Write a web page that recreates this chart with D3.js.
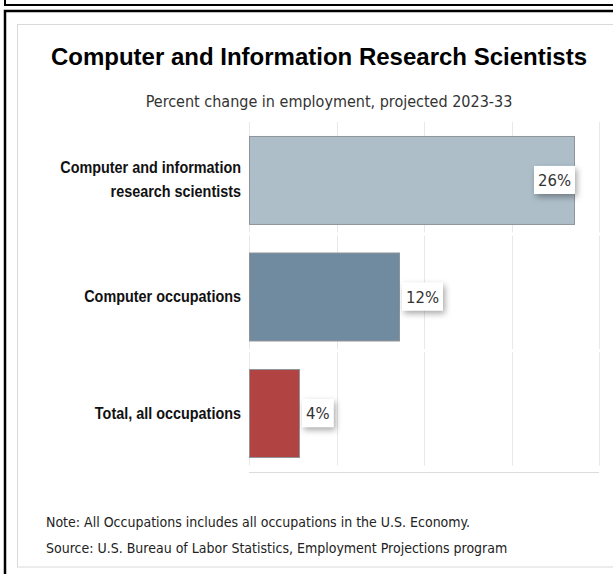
<!DOCTYPE html>
<html>
<head>
<meta charset="utf-8">
<script src="https://cdn.jsdelivr.net/npm/d3@7"></script>
<style>
  html, body { margin: 0; padding: 0; background: #fff; }
  svg { display: block; }
</style>
</head>
<body>
<svg id="chart" width="613" height="574"></svg>
<script>
// Projected percent change in employment, 2023-33
const categories = [
  "Computer and information research scientists",
  "Computer occupations",
  "Total, all occupations"
];
const categoryLines = [
  ["Computer and information", "research scientists"],
  ["Computer occupations"],
  ["Total, all occupations"]
];
const values = [26, 12, 4];
const barColors = ["#adbec9", "#708ba0", "#b24343"];
const gridTicks = [0, 7, 14, 21, 28];
const titleText = "Computer and Information Research Scientists";
const subtitleText = "Percent change in employment, projected 2023-33";
const noteLines = [
  "Note: All Occupations includes all occupations in the U.S. Economy.",
  "Source: U.S. Bureau of Labor Statistics, Employment Projections program"
];

const svg = d3.select("#chart");
const W = 613, H = 574;
const plot = { left: 249, right: 599, top: 122, bottom: 471 };
const bodyFont = "'DejaVu Sans Condensed', 'DejaVu Sans', sans-serif";
const labelRight = 241;

// Page frames
svg.append("path")
  .attr("d", `M5,0 V5 H${W}`)
  .attr("fill", "none").attr("stroke", "#000").attr("stroke-width", 2);
svg.append("path")
  .attr("d", `M5,${H} V11 H${W}`)
  .attr("fill", "none").attr("stroke", "#000").attr("stroke-width", 2.5);
svg.append("rect")
  .attr("x", 17.5).attr("y", 24.5).attr("width", W).attr("height", 567 - 24.5)
  .attr("fill", "#fff").attr("stroke", "#d9d9d9").attr("stroke-width", 1);

// Shadow for the value boxes
const defs = svg.append("defs");
const f = defs.append("filter").attr("id", "shadow")
  .attr("x", "-40%").attr("y", "-40%").attr("width", "190%").attr("height", "200%");
f.append("feDropShadow").attr("dx", 2).attr("dy", 3).attr("stdDeviation", 3)
  .attr("flood-color", "#000").attr("flood-opacity", 0.35);

// Titles
svg.append("text")
  .attr("x", 319).attr("y", 65)
  .attr("text-anchor", "middle")
  .attr("font-family", "'Liberation Sans', Arial, sans-serif")
  .attr("font-weight", "bold").attr("font-size", 24)
  .attr("fill", "#000")
  .text(titleText);
svg.append("text")
  .attr("x", 329).attr("y", 107)
  .attr("text-anchor", "middle")
  .attr("font-family", bodyFont)
  .attr("font-size", 16).attr("fill", "#333")
  .text(subtitleText);

// Scales
const x = d3.scaleLinear().domain([0, 28]).range([plot.left, plot.right]);
const y = d3.scaleBand().domain(categories).range([plot.top, plot.bottom])
  .paddingInner(0.245).paddingOuter(0.12);
const step = y.step();

// Vertical gridlines, broken between categories
const grid = svg.append("g");
categories.forEach((c, i) => {
  const y0 = Math.max(plot.top, plot.top + i * step - 3);
  const y1 = plot.top + (i + 1) * step - 6;
  grid.selectAll(null).data(gridTicks).enter().append("line")
    .attr("x1", d => Math.round(x(d)) + 0.5).attr("x2", d => Math.round(x(d)) + 0.5)
    .attr("y1", y0).attr("y2", y1)
    .attr("stroke", "#e8e8e8").attr("stroke-width", 1);
});

// Category axis line at the bottom
svg.append("line")
  .attr("x1", plot.left).attr("x2", plot.right)
  .attr("y1", plot.bottom + 1.5).attr("y2", plot.bottom + 1.5)
  .attr("stroke", "#dcdcdc").attr("stroke-width", 1);

// Bars
svg.append("g").selectAll("rect").data(values).enter().append("rect")
  .attr("x", x(0) + 0.5)
  .attr("y", (d, i) => y(categories[i]) + 0.5)
  .attr("width", d => x(d) - x(0))
  .attr("height", y.bandwidth())
  .attr("fill", (d, i) => barColors[i])
  .attr("stroke", "#8f9498").attr("stroke-width", 1);

// Category labels (bold, horizontally condensed)
const labels = svg.append("g")
  .attr("transform", `translate(${labelRight},0) scale(0.9,1)`);
categories.forEach((c, i) => {
  const lines = categoryLines[i];
  const cy = y(c) + y.bandwidth() / 2;
  const lh = 24;
  const t = labels.append("text")
    .attr("text-anchor", "end")
    .attr("font-family", "'Liberation Sans', Arial, sans-serif")
    .attr("font-weight", "bold").attr("font-size", 16)
    .attr("fill", "#111");
  lines.forEach((ln, k) => {
    t.append("tspan")
      .attr("x", 0)
      .attr("y", cy + (k - (lines.length - 1) / 2) * lh + 5.5)
      .text(ln);
  });
});

// Value labels in white boxes
const vl = svg.append("g");
values.forEach((v, i) => {
  const cy = y(categories[i]) + y.bandwidth() / 2;
  const g = vl.append("g");
  const txt = g.append("text")
    .attr("font-family", bodyFont)
    .attr("font-size", 16.5).attr("fill", "#333")
    .attr("text-anchor", "middle")
    .text(v + "%");
  const tw = txt.node().getComputedTextLength();
  const bw = tw + 8, bh = 28;
  let bx = x(v) + 3;
  if (bx + bw > plot.right) bx = x(v) - bw + 1;
  g.insert("rect", "text")
    .attr("x", bx).attr("y", cy - bh / 2)
    .attr("width", bw).attr("height", bh)
    .attr("fill", "#fff")
    .attr("filter", "url(#shadow)");
  txt.attr("x", bx + bw / 2).attr("y", cy + 6);
});

// Footnotes
svg.append("g").selectAll("text").data(noteLines).enter().append("text")
  .attr("x", 46).attr("y", (d, i) => 527 + i * 26)
  .attr("font-family", bodyFont)
  .attr("font-size", 14).attr("fill", "#222")
  .text(d => d);
</script>
</body>
</html>
